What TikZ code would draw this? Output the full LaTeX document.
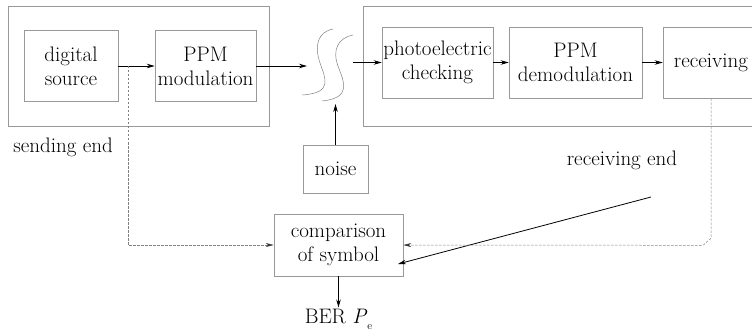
\documentclass[tikz,border=0pt]{standalone}
\usetikzlibrary{arrows.meta}
\begin{document}
\begin{tikzpicture}[x=1pt, y=-1pt, >={Stealth[length=8pt,width=4.5pt]}]
	\tikzset{every node/.append style={font=\fontsize{21}{24}\selectfont}}
	\tikzset{blk/.style={draw=black!40, line width=0.6pt, minimum height=71pt, inner sep=1pt, align=center}}
	\tikzset{wave/.style={draw=black!50, line width=0.5pt}}
	\tikzset{tap/.style={draw=black!50, line width=0.5pt, dash pattern=on 2.5pt off 1.5pt, -{Stealth[length=8pt,width=4pt,color=black!80]}}}
	\clip (0,0) rectangle (752,334);

	% frames
	\draw[draw=black!40, line width=0.6pt] (8,6) rectangle (269,126);
	\draw[draw=black!40, line width=0.6pt] (363,6) rectangle (790,126);

	\node[blk, minimum width=94pt]		(src) at (71,66)		{digital\\source};
	\node[blk, minimum width=101pt]		(mod) [right of=src, node distance=134.5pt]	{PPM\\modulation};
	\node[blk, minimum width=111pt]		(det) at (437.5,62.5)	{photoelectric\\checking};
	\node[blk, minimum width=133pt]		(dem) [right of=det, node distance=138pt]	{PPM\\demodulation};
	\node[blk, minimum width=96pt]		(rcv) [right of=dem, node distance=135.5pt]	{receiving};
	\node[blk, minimum width=65pt, minimum height=48pt]	(noise) at (335.5,169)	{noise};
	\node[blk, minimum width=129pt, minimum height=62pt]	(cmp) at (338.5,245)	{comparison\\of symbol};
	\node[anchor=base, inner sep=1pt]	(ber) at (338.5,323)	{BER \textit{P}\raisebox{-6pt}{\fontsize{11}{11}\selectfont e}};
	\node	(send) at (63,147)	{sending end};
	\node	(rend) at (622,160)	{receiving end};

	% channel
	\draw[wave] (333,29) .. controls (318,32) and (314,45) .. (320,63) .. controls (325,78) and (334,93) .. (302,95);
	\draw[wave] (353,35) .. controls (338,38) and (332,50) .. (338,66) .. controls (344,82) and (352,98) .. (322,101);

	\coordinate (in)   at (307,66);
	\coordinate (out)  at (353,62.5);
	\coordinate (hit)  at (335.5,104);
	\coordinate (tap)  at (128,66);
	\coordinate (far)  at (651,197);
	\coordinate (near) at (398,264);

	\path[line width=0.8pt]
		(src)   edge[->]	(mod)
		(mod)   edge[->]	(in)
		(out)   edge[->]	(det)
		(det)   edge[->]	(dem)
		(dem)   edge[->]	(rcv)
		(noise) edge[->]	(hit)
		(cmp)   edge[->]	(ber)
		(far)   edge[->]	(near)
		;
	\draw[tap] (tap) |- (cmp);
	\draw[tap] (rcv.south) -- ++(0,140) -- ++(-8,7) -- (cmp);
\end{tikzpicture}
\end{document}
